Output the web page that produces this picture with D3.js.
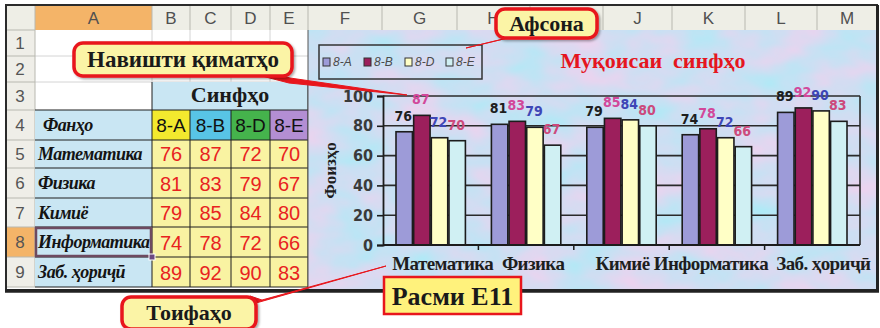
<!DOCTYPE html>
<html>
<head>
<meta charset="utf-8">
<script src="https://cdn.jsdelivr.net/npm/d3@7"></script>
<style>
  body { margin: 0; background: #fff; }
  svg { display: block; }
  .serif { font-family: "Liberation Serif", "Times New Roman", serif; font-weight: bold; }
  .sans { font-family: "Liberation Sans", Arial, sans-serif; }
  .narrow { font-family: "Liberation Sans Narrow", "DejaVu Sans Condensed", "Liberation Sans", sans-serif; font-weight: bold; font-stretch: condensed; }
</style>
</head>
<body>
<svg id="sheet" width="880" height="328"></svg>
<script>
// ---- data ----
const subjects = ["Математика", "Физика", "Кимиё", "Информатика", "Заб. ҳориҷӣ"];
const classes = ["8-A", "8-B", "8-D", "8-E"];
const scores8A = [76, 81, 79, 74, 89];
const scores8B = [87, 83, 85, 78, 92];
const scores8D = [72, 79, 84, 72, 90];
const scores8E = [70, 67, 80, 66, 83];
const yTicks = [0, 20, 40, 60, 80, 100];
const columnLetters = ["A", "B", "C", "D", "E", "F", "G", "H", "I", "J", "K", "L", "M"];
const hiddenColumns = ["I"];
const rowNumbers = [1, 2, 3, 4, 5, 6, 7, 8, 9];

const seriesValues = [scores8A, scores8B, scores8D, scores8E];

// ---- styling ----
const barFill = ["#9d9bd8", "#9c1f5c", "#ffffc6", "#d0f0f3"];
const labelFill = ["#1e1e1e", "#d2489a", "#3e46b6", "#cc4a7c"];
const headerFill = ["#f3e92e", "#58c4e6", "#45b34c", "#b38ed3"];

// ---- spreadsheet grid layout ----
const colEdges = [35, 152, 190, 231, 270, 308, 382, 457, 530, 603, 672, 745, 817, 877];
const rowEdges = [30, 56, 82, 110, 140, 168, 198, 227, 257, 287];

const svg = d3.select("#sheet");
const defs = svg.append("defs");

// mottled chart backdrop
const mottle = defs.append("filter").attr("id", "mottle")
  .attr("x", 0).attr("y", 0).attr("width", 1).attr("height", 1)
  .attr("color-interpolation-filters", "sRGB");
mottle.append("feTurbulence").attr("type", "fractalNoise")
  .attr("baseFrequency", "0.018 0.03").attr("numOctaves", 3).attr("seed", 7);
mottle.append("feColorMatrix").attr("type", "matrix")
  .attr("values", [
    0.32, 0, 0, 0, 0.65,
    -0.12, 0, 0, 0, 0.93,
    -0.04, 0, 0, 0, 0.97,
    0, 0, 0, 0, 1
  ].join(" "));

const shadow = defs.append("filter").attr("id", "shadow")
  .attr("x", -0.1).attr("y", -0.2).attr("width", 1.3).attr("height", 1.5);
shadow.append("feDropShadow").attr("dx", 1.5).attr("dy", 1.5).attr("stdDeviation", 1.2)
  .attr("flood-color", "#000").attr("flood-opacity", 0.35);

const X = colEdges, Y = rowEdges;

// ---- column header row ----
svg.append("rect").attr("x", 6).attr("y", 5).attr("width", 871).attr("height", 25).attr("fill", "#eeeee6");
svg.append("rect").attr("x", X[0]).attr("y", 5).attr("width", X[1] - X[0]).attr("height", 25).attr("fill", "#f4b468");
svg.selectAll(".colhead").data(columnLetters.filter(c => !hiddenColumns.includes(c))).join("text")
  .attr("class", "sans")
  .attr("x", d => { const i = columnLetters.indexOf(d); return (X[i] + X[i + 1]) / 2; })
  .attr("y", 24)
  .attr("text-anchor", "middle")
  .attr("font-size", 17)
  .attr("fill", "#505050")
  .text(d => d);
svg.selectAll(".colsep").data(X).join("line")
  .attr("x1", d => d).attr("x2", d => d).attr("y1", 6).attr("y2", 30)
  .attr("stroke", "#b8b8b0").attr("stroke-width", 1);

// ---- row header column ----
svg.append("rect").attr("x", 6).attr("y", Y[0]).attr("width", X[0] - 6).attr("height", Y[9] - Y[0]).attr("fill", "#efeee8");
svg.append("rect").attr("x", 6).attr("y", Y[7]).attr("width", X[0] - 6).attr("height", Y[8] - Y[7]).attr("fill", "#f4b468");
svg.selectAll(".rowhead").data(rowNumbers).join("text")
  .attr("class", "sans")
  .attr("x", 20)
  .attr("y", (d, i) => (Y[i] + Y[i + 1]) / 2 + 6)
  .attr("text-anchor", "middle")
  .attr("font-size", 17)
  .attr("fill", "#555")
  .text(d => d);
svg.selectAll(".rowsep").data(Y).join("line")
  .attr("x1", 6).attr("x2", X[0]).attr("y1", d => d).attr("y2", d => d)
  .attr("stroke", "#b8b8b0");

// ---- table cells (columns A..E) ----
svg.append("rect").attr("x", X[0]).attr("y", Y[0]).attr("width", X[5] - X[0]).attr("height", Y[3] - Y[0]).attr("fill", "#fff");
[Y[1], Y[2]].forEach(y => svg.append("line").attr("x1", X[0]).attr("x2", X[5]).attr("y1", y).attr("y2", y).attr("stroke", "#d4d4d4"));
X.slice(1, 5).forEach(x => svg.append("line").attr("x1", x).attr("x2", x).attr("y1", Y[0]).attr("y2", Y[2]).attr("stroke", "#d4d4d4"));
svg.append("line").attr("x1", X[0]).attr("x2", X[0]).attr("y1", Y[0]).attr("y2", Y[9]).attr("stroke", "#b8b8b0");

// merged header "Синфҳо"
svg.append("rect").attr("x", X[1]).attr("y", Y[2]).attr("width", X[5] - X[1]).attr("height", Y[3] - Y[2]).attr("fill", "#c9e6f3");
svg.append("text").attr("class", "serif")
  .attr("x", (X[1] + X[5]) / 2).attr("y", Y[3] - 8)
  .attr("text-anchor", "middle").attr("font-size", 22).attr("fill", "#1a1a1a")
  .text("Синфҳо");

// subject column
svg.append("rect").attr("x", X[0]).attr("y", Y[3]).attr("width", X[1] - X[0]).attr("height", Y[9] - Y[3]).attr("fill", "#c9e6f3");
const rowTitles = ["Фанҳо"].concat(subjects);
svg.selectAll(".rowtitle").data(rowTitles).join("text")
  .attr("class", "serif")
  .attr("x", (d, i) => i === 0 ? X[0] + 8 : X[0] + 3)
  .attr("y", (d, i) => (Y[3 + i] + Y[4 + i]) / 2 + 6)
  .attr("font-size", 18).attr("font-style", "italic").attr("fill", "#141414")
  .attr("letter-spacing", -0.5)
  .text(d => d);

// class header cells
svg.selectAll(".classcell").data(classes).join("rect")
  .attr("x", (d, i) => X[1 + i]).attr("y", Y[3])
  .attr("width", (d, i) => X[2 + i] - X[1 + i]).attr("height", Y[4] - Y[3])
  .attr("fill", (d, i) => headerFill[i]);
svg.selectAll(".classtext").data(classes).join("text")
  .attr("class", "sans")
  .attr("x", (d, i) => (X[1 + i] + X[2 + i]) / 2).attr("y", Y[4] - 8)
  .attr("text-anchor", "middle").attr("font-size", 19).attr("fill", "#111")
  .text(d => d);

// value cells
const cells = [];
subjects.forEach((s, r) => seriesValues.forEach((vals, c) => cells.push({ r, c, v: vals[r] })));
svg.selectAll(".valcell").data(cells).join("rect")
  .attr("x", d => X[1 + d.c]).attr("y", d => Y[4 + d.r])
  .attr("width", d => X[2 + d.c] - X[1 + d.c]).attr("height", d => Y[5 + d.r] - Y[4 + d.r])
  .attr("fill", "#f9f3a2");
svg.selectAll(".valtext").data(cells).join("text")
  .attr("class", "sans")
  .attr("x", d => (X[1 + d.c] + X[2 + d.c]) / 2).attr("y", d => Y[5 + d.r] - 7)
  .attr("text-anchor", "middle").attr("font-size", 20).attr("fill", "#e8231f")
  .text(d => d.v);

// dark grid of the data block
Y.slice(3).forEach(y => svg.append("line").attr("x1", X[0]).attr("x2", X[5]).attr("y1", y).attr("y2", y).attr("stroke", "#1e1e1e"));
X.slice(1, 6).forEach((x, i) => svg.append("line").attr("x1", x).attr("x2", x)
  .attr("y1", i === 0 || i === 4 ? Y[2] : Y[3]).attr("y2", Y[9]).attr("stroke", "#1e1e1e"));

// selected cell A8
svg.append("rect").attr("x", X[0] + 1).attr("y", Y[7] + 1).attr("width", X[1] - X[0] - 2).attr("height", Y[8] - Y[7] - 2)
  .attr("fill", "none").attr("stroke", "#6d4a60").attr("stroke-width", 2.5);
svg.append("rect").attr("x", X[1] - 3).attr("y", Y[8] - 3).attr("width", 6).attr("height", 6)
  .attr("fill", "#6d4a80").attr("stroke", "#fff").attr("stroke-width", 1);

// ---- embedded chart ----
const chartLeft = X[5], chartTop = Y[0], chartRight = X[13], chartBottom = 289;
svg.append("rect").attr("x", chartLeft).attr("y", chartTop)
  .attr("width", chartRight - chartLeft).attr("height", chartBottom - chartTop)
  .attr("fill", "#cfe0f2");
svg.append("rect").attr("x", chartLeft).attr("y", chartTop)
  .attr("width", chartRight - chartLeft).attr("height", chartBottom - chartTop)
  .attr("filter", "url(#mottle)");

const plot = { left: 383, right: 860, top: 96, bottom: 245 };
const x0 = d3.scaleBand().domain(subjects).range([plot.left, plot.right]);
const x1 = d3.scaleBand().domain(classes).range([13, x0.bandwidth() - 13]).paddingInner(0.07);
const y = d3.scaleLinear().domain([0, 100]).range([plot.bottom, plot.top]);

// horizontal gridlines
svg.append("g").selectAll("line").data(yTicks.filter(t => t > 0)).join("line")
  .attr("x1", plot.left).attr("x2", plot.right)
  .attr("y1", d => y(d)).attr("y2", d => y(d))
  .attr("stroke", "#2a2a2a").attr("stroke-width", 1.6);
svg.append("line").attr("x1", plot.right).attr("x2", plot.right).attr("y1", plot.top).attr("y2", plot.bottom)
  .attr("stroke", "#2a2a2a").attr("stroke-width", 1.6);

// bars
const barData = [];
subjects.forEach((s, i) => classes.forEach((c, j) => barData.push({ s, c, j, v: seriesValues[j][i] })));
const bars = svg.append("g");
bars.selectAll("rect").data(barData).join("rect")
  .attr("x", d => x0(d.s) + x1(d.c))
  .attr("y", d => y(d.v))
  .attr("width", x1.bandwidth())
  .attr("height", d => y(0) - y(d.v))
  .attr("fill", d => barFill[d.j])
  .attr("stroke", "#1c1c1c").attr("stroke-width", 1.6);

// value labels
bars.selectAll("text").data(barData).join("text")
  .attr("class", "narrow")
  .attr("x", d => x0(d.s) + x1(d.c) + x1.bandwidth() / 2 - 1)
  .attr("y", d => y(d.v) - 11)
  .attr("text-anchor", "middle").attr("font-size", 14)
  .attr("fill", d => labelFill[d.j])
  .text(d => d.v);

// y axis
const yAxis = svg.append("g").attr("transform", `translate(${plot.left},0)`)
  .call(d3.axisLeft(y).tickValues(yTicks).tickSize(6).tickPadding(4));
yAxis.select(".domain").attr("stroke", "#1c1c1c").attr("stroke-width", 1.8);
yAxis.selectAll(".tick line").attr("stroke", "#1c1c1c").attr("stroke-width", 1.6);
yAxis.selectAll(".tick text").attr("class", "narrow").attr("font-size", 16).attr("fill", "#3a3a3a");

// x axis
svg.append("line").attr("x1", plot.left).attr("x2", plot.right).attr("y1", plot.bottom).attr("y2", plot.bottom)
  .attr("stroke", "#1c1c1c").attr("stroke-width", 1.8);
svg.append("g").selectAll("line").data(subjects.slice(1)).join("line")
  .attr("x1", d => x0(d)).attr("x2", d => x0(d))
  .attr("y1", plot.bottom).attr("y2", plot.bottom + 5)
  .attr("stroke", "#1c1c1c").attr("stroke-width", 1.5);
const xAxis = svg.append("g").attr("transform", `translate(0,${plot.bottom})`)
  .call(d3.axisBottom(x0).tickSize(0).tickPadding(12));
xAxis.select(".domain").remove();
xAxis.selectAll(".tick text").attr("class", "serif").attr("font-size", 19).attr("fill", "#1e1e1e")
  .attr("letter-spacing", -0.6)
  .attr("dx", (d, i) => [12, 7, 1, -6, 11][i]);

// y axis title
svg.append("text").attr("class", "serif")
  .attr("transform", `translate(336,${(plot.top + plot.bottom) / 2}) rotate(-90)`)
  .attr("text-anchor", "middle").attr("font-size", 17).attr("fill", "#1e1e1e")
  .text("Фоизҳо");

// chart title
svg.append("text").attr("class", "serif")
  .attr("x", 653).attr("y", 68).attr("text-anchor", "middle")
  .attr("font-size", 22).attr("fill", "#e5161f")
  .attr("xml:space", "preserve")
  .text("Муқоисаи  синфҳо");

// legend
const legend = svg.append("g");
legend.append("rect").attr("x", 319).attr("y", 45).attr("width", 163).attr("height", 34)
  .attr("fill", "none").attr("stroke", "#333").attr("stroke-width", 1.5);
const legItem = legend.selectAll("g").data(classes).join("g")
  .attr("transform", (d, i) => `translate(${323 + i * 41},62)`);
legItem.append("rect").attr("x", 0).attr("y", -4).attr("width", 7).attr("height", 8)
  .attr("fill", (d, i) => barFill[i]).attr("stroke", "#333").attr("stroke-width", 1);
legItem.append("text").attr("class", "sans")
  .attr("x", 10).attr("y", 4).attr("font-size", 12).attr("font-style", "italic")
  .attr("fill", "#4a4a4a").text(d => d);

svg.append("line").attr("x1", chartLeft).attr("x2", chartLeft).attr("y1", chartTop).attr("y2", chartBottom)
  .attr("stroke", "#555").attr("stroke-width", 1);

// ---- sheet frame ----
svg.append("rect").attr("x", 6).attr("y", 5).attr("width", 871).attr("height", 285)
  .attr("fill", "none").attr("stroke", "#2b2b2b").attr("stroke-width", 2);
svg.append("line").attr("x1", 5).attr("x2", 879).attr("y1", 291).attr("y2", 291)
  .attr("stroke", "#222").attr("stroke-width", 3.5);
svg.append("line").attr("x1", 877.5).attr("x2", 877.5).attr("y1", 5).attr("y2", 292)
  .attr("stroke", "#222").attr("stroke-width", 3);

// ---- callouts ----
const red = "#e8161c", pale = "#fbf4a6";
function tail(points) {
  svg.append("path").attr("d", d3.line()(points) + "Z")
    .attr("fill", red).attr("stroke", red).attr("stroke-width", 1).attr("stroke-linejoin", "round");
}
function bubble(x, yy, w, h, label, size) {
  svg.append("rect").attr("x", x).attr("y", yy).attr("width", w).attr("height", h)
    .attr("rx", 9).attr("fill", pale).attr("stroke", red).attr("stroke-width", 3.5)
    .attr("filter", "url(#shadow)");
  svg.append("text").attr("class", "serif")
    .attr("x", x + w / 2).attr("y", yy + h / 2 + size * 0.34)
    .attr("text-anchor", "middle").attr("font-size", size).attr("fill", "#1a1a1a")
    .text(label);
}

tail([[262, 70], [290, 78], [407, 95], [289, 83], [262, 76]]);
bubble(74, 43, 218, 33, "Навишти  қиматҳо", 23);

tail([[505, 30], [520, 35], [466, 48], [512, 37]]);
bubble(496, 9, 101, 29, "Афсона", 22);

tail([[250, 296], [262, 300], [386, 266], [256, 303]]);
bubble(122, 297, 134, 32, "Тоифаҳо", 22);

// figure caption box
svg.append("rect").attr("x", 384).attr("y", 277).attr("width", 137).attr("height", 37)
  .attr("fill", "#fff27c").attr("stroke", red).attr("stroke-width", 2.5);
svg.append("text").attr("class", "serif")
  .attr("x", 452.5).attr("y", 305).attr("text-anchor", "middle")
  .attr("font-size", 26).attr("fill", "#1a1a1a")
  .text("Расми Е11");
</script>
</body>
</html>
